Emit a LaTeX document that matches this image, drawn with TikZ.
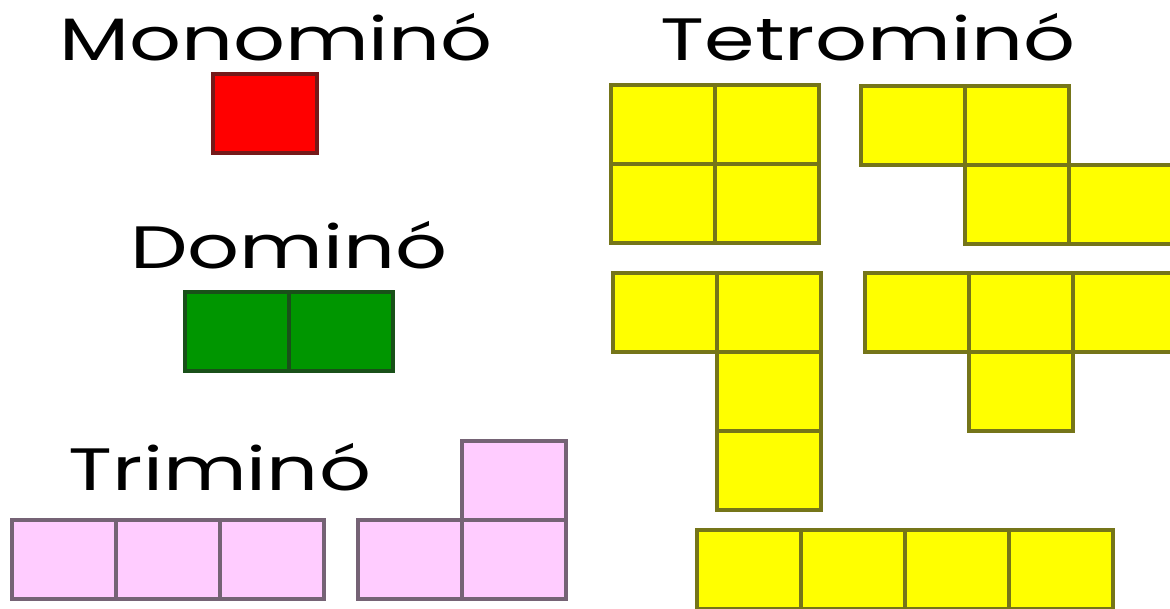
\documentclass[tikz,border=0pt]{standalone}
\usepackage{fontspec}
\newfontfamily\handfont{Poppins}[FakeStretch=1.36]
\usetikzlibrary{positioning}
\definecolor{cred}{HTML}{FF0000}
\definecolor{cgreen}{HTML}{009600}
\definecolor{cpink}{HTML}{FFCCFF}
\definecolor{cyellow}{HTML}{FFFF00}
\tikzset{
  every picture/.style={line width=1pt},
  cell/.style={fill=#1, draw=#1!45!black!80!gray, line width=0.035cm},
  cell/.default=cyellow,
  title/.style={font=\handfont\fontsize{17}{20}\selectfont, anchor=base, inner sep=0pt},
}
\begin{document}
\begin{tikzpicture}[x=0.01cm, y=-0.01cm]
  \useasboundingbox (0,0) rectangle (1170,608);
  % titles
  \node[title] (monoTitle) at (276,60) {Monominó};
  \node[title] (doTitle) at (289,268) {Dominó};
  \node[title] (triTitle) at (220,490) {Triminó};
  \node[title] (tetraTitle) at (868,60) {Tetrominó};
  % monomino and domino
  \begin{scope}[shift={(213,74)}]
    \draw[cell=cred] (0,0) rectangle ++(104,79);
  \end{scope}
  \begin{scope}[shift={(185,292)}]
    \foreach \c in {0,1}
      \draw[cell=cgreen] (\c*104,0) rectangle ++(104,79);
  \end{scope}
  % triminoes
  \begin{scope}[shift={(12,520)}]
    \foreach \c in {0,1,2}
      \draw[cell=cpink] (\c*104,0) rectangle ++(104,79);
  \end{scope}
  \begin{scope}[shift={(358,441)}]
    \foreach \c/\r in {1/0,0/1,1/1}
      \draw[cell=cpink] (\c*104,\r*79) rectangle ++(104,79);
  \end{scope}
  % tetrominoes
  \begin{scope}[shift={(611,85)}]
    \foreach \c/\r in {0/0,1/0,0/1,1/1}
      \draw[cell] (\c*104,\r*79) rectangle ++(104,79);
  \end{scope}
  \begin{scope}[shift={(861,86)}]
    \foreach \c/\r in {0/0,1/0,1/1,2/1}
      \draw[cell] (\c*104,\r*79) rectangle ++(104,79);
  \end{scope}
  \begin{scope}[shift={(613,273)}]
    \foreach \c/\r in {0/0,1/0,1/1,1/2}
      \draw[cell] (\c*104,\r*79) rectangle ++(104,79);
  \end{scope}
  \begin{scope}[shift={(865,273)}]
    \foreach \c/\r in {0/0,1/0,2/0,1/1}
      \draw[cell] (\c*104,\r*79) rectangle ++(104,79);
  \end{scope}
  \begin{scope}[shift={(697,530)}]
    \foreach \c in {0,...,3}
      \draw[cell] (\c*104,0) rectangle ++(104,79);
  \end{scope}
\end{tikzpicture}
\end{document}
